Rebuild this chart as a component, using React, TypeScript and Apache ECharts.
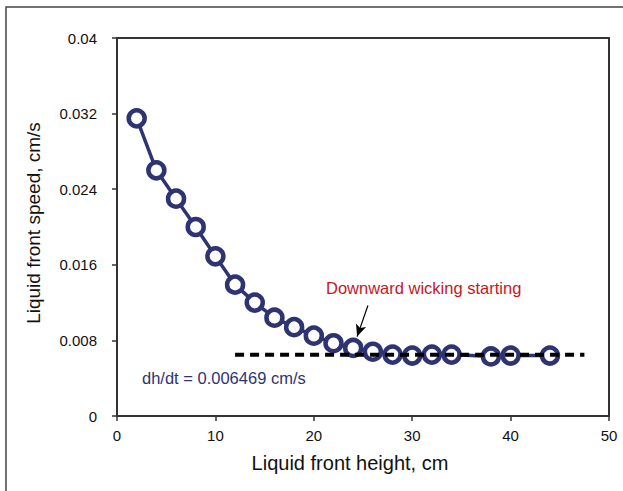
import React, { useEffect, useRef } from "react";
import * as echarts from "echarts";

const heights = [2, 4, 6, 8, 10, 12, 14, 16, 18, 20, 22, 24, 26, 28, 30, 32, 34, 38, 40, 44];
const speeds = [0.0315, 0.0260, 0.0230, 0.0200, 0.0169, 0.0139, 0.0120, 0.0104, 0.0094, 0.0085, 0.0077, 0.0072, 0.0068, 0.0065, 0.0064, 0.0065, 0.0065, 0.0063, 0.0064, 0.0064];
const fitStart = 12;
const fitEnd = 47.5;
const fitValue = 0.006469;
const arrowFrom = [25.5, 0.0117];
const arrowTo = [24.4, 0.0084];
const yTicks = [0, 0.008, 0.016, 0.024, 0.032, 0.04];
const xTicks = [0, 10, 20, 30, 40, 50];

export default function App() {
  const ref = useRef<HTMLDivElement>(null);
  useEffect(() => {
    document.body.style.margin = "0";
    const chart = echarts.init(ref.current!, null, { renderer: "svg" });
    const font = "Liberation Sans, Arial, Helvetica, sans-serif";
    chart.setOption({
      animation: false,
      backgroundColor: "#fff",
      grid: { left: 117, top: 38, right: 14, bottom: 75, show: true, borderColor: "#333", borderWidth: 2 },
      xAxis: {
        type: "value",
        min: xTicks[0],
        max: xTicks[xTicks.length - 1],
        interval: 10,
        name: "Liquid front height, cm",
        nameLocation: "middle",
        nameGap: 37,
        nameTextStyle: { fontFamily: font, fontSize: 20, color: "#111", padding: [0, 26, 0, 0] },
        axisLine: { lineStyle: { color: "#333", width: 2 } },
        axisTick: { inside: false, length: 5, lineStyle: { color: "#333", width: 1.5 } },
        axisLabel: { fontFamily: font, fontSize: 15, color: "#111", margin: 12 },
        splitLine: { show: false },
      },
      yAxis: {
        type: "value",
        min: yTicks[0],
        max: yTicks[yTicks.length - 1],
        interval: 0.008,
        name: "Liquid front speed, cm/s",
        nameLocation: "middle",
        nameGap: 74,
        nameTextStyle: { fontFamily: font, fontSize: 19, color: "#111", padding: [0, 0, 0, 8] },
        axisLine: { show: true, lineStyle: { color: "#333", width: 2 } },
        axisTick: { show: true, inside: false, length: 5, lineStyle: { color: "#333", width: 1.5 } },
        axisLabel: {
          fontFamily: font,
          fontSize: 15,
          color: "#111",
          margin: 20,
          formatter: (v: number) => (v === 0 ? "0" : String(+v.toFixed(3))),
        },
        splitLine: { show: false },
      },
      graphic: [
        {
          type: "rect",
          shape: { x: 6, y: 7, width: 700, height: 600 },
          style: { fill: "none", stroke: "#444", lineWidth: 1.5 },
          silent: true,
        },
        {
          type: "text",
          x: 326,
          y: 288,
          style: { text: "Downward wicking starting", fill: "#c8161d", font: `16.5px ${font}`, textVerticalAlign: "middle" },
        },
        {
          type: "text",
          x: 142,
          y: 378,
          style: { text: "dh/dt = 0.006469 cm/s", fill: "#2e3472", font: `16.5px ${font}`, textVerticalAlign: "middle" },
        },
      ],
      series: [
        {
          type: "line",
          data: heights.map((h, i) => [h, speeds[i]]),
          symbol: "circle",
          symbolSize: 16,
          lineStyle: { color: "#2e3472", width: 3.5 },
          itemStyle: { color: "#fff", borderColor: "#2e3472", borderWidth: 4.5 },
          z: 2,
        },
        {
          type: "line",
          data: [
            [fitStart, fitValue],
            [fitEnd, fitValue],
          ],
          symbol: "none",
          lineStyle: { color: "#000", width: 4, type: [9, 6] },
          z: 3,
          markLine: {
            silent: true,
            symbol: ["none", "arrow"],
            symbolSize: [8, 12],
            lineStyle: { color: "#000", width: 1.2, type: "solid" },
            label: { show: false },
            data: [[{ coord: arrowFrom }, { coord: arrowTo }]],
          },
        },
      ],
    });
    return () => chart.dispose();
  }, []);
  return <div ref={ref} style={{ width: 623, height: 491 }} />;
}
